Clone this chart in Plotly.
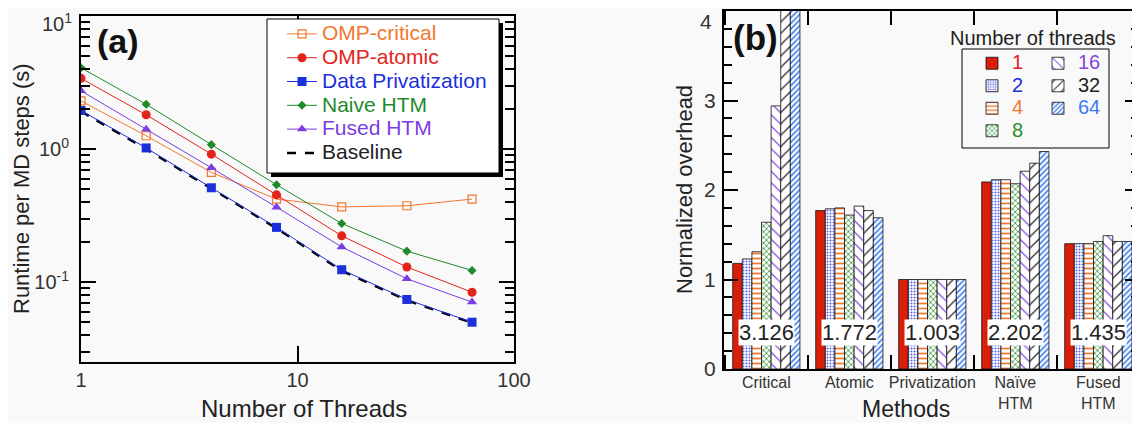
import plotly.graph_objects as go

# ---------------- data: panel (a) ----------------
threads = [1, 2, 4, 8, 16, 32, 64]
omp_critical = [2.30, 1.26, 0.668, 0.421, 0.368, 0.375, 0.421]
omp_atomic = [3.40, 1.81, 0.916, 0.453, 0.223, 0.130, 0.084]
data_priv = [1.95, 1.02, 0.512, 0.258, 0.124, 0.0741, 0.050]
naive_htm = [4.08, 2.17, 1.08, 0.539, 0.276, 0.171, 0.1225]
fused_htm = [2.74, 1.41, 0.724, 0.366, 0.184, 0.106, 0.0708]
baseline = [1.92, 1.00, 0.505, 0.254, 0.122, 0.0730, 0.0495]
y_ticks_a = [0.1, 1, 10]
y_ticktext_a = ["10<sup>-1</sup>", "10<sup>0</sup>", "10<sup>1</sup>"]

# ---------------- data: panel (b) ----------------
methods = ["Critical", "Atomic", "Privatization", "Naïve<br>HTM", "Fused<br>HTM"]
thread_labels = ["1", "2", "4", "8", "16", "32", "64"]
overhead = {
    "1":  [1.18, 1.77, 1.00, 2.09, 1.40],
    "2":  [1.23, 1.79, 1.00, 2.115, 1.40],
    "4":  [1.31, 1.80, 1.00, 2.115, 1.40],
    "8":  [1.64, 1.72, 1.00, 2.07, 1.425],
    "16": [2.94, 1.82, 1.00, 2.21, 1.49],
    "32": [5.60, 1.77, 1.00, 2.30, 1.425],
    "64": [7.98, 1.69, 1.00, 2.43, 1.425],
}
avg_overhead = [3.126, 1.772, 1.003, 2.202, 1.435]
y_ticks_b = [0, 1, 2, 3, 4]

FONT = "Liberation Sans, Arial, Helvetica, sans-serif"
OFF = 8                      # default page body margin of the html page
W, H = 1140 - OFF, 423 - OFF


def px(x):
    return (x - OFF) / W


def py(y):
    return (H + OFF - y) / H


fig = go.Figure()

# ---- panel (a) traces ----
line_specs = [
    ("OMP-critical", omp_critical, "#F2782F", dict(symbol="square-open", size=8, line=dict(width=1.2)), 1),
    ("OMP-atomic", omp_atomic, "#E3241C", dict(symbol="circle", size=9), 2),
    ("Data Privatization", data_priv, "#1B2FDB", dict(symbol="square", size=9), 3),
    ("Naive HTM", naive_htm, "#1F8A2C", dict(symbol="diamond", size=7), 4),
    ("Fused HTM", fused_htm, "#7A3DE2", dict(symbol="triangle-up", size=9), 5),
]

fig.add_trace(go.Scatter(
    x=threads, y=baseline, mode="lines",
    name="<span style='font-size:21px'>Baseline</span>",
    line=dict(color="black", width=2.5, dash="dash"),
    xaxis="x", yaxis="y", legend="legend", legendrank=6,
))
for name, vals, col, mk, rank in line_specs:
    mk = dict(mk)
    mk["color"] = col
    fig.add_trace(go.Scatter(
        x=threads, y=vals, mode="lines+markers",
        name=f"<span style='color:{col};font-size:21px'>{name}</span>",
        line=dict(color=col, width=1), marker=mk,
        xaxis="x", yaxis="y", legend="legend", legendrank=rank,
    ))

# ---- panel (b) bars ----
bar_styles = {
    "1":  dict(color="#D91E0A", pattern=dict(shape=""), txt="#E02020"),
    "2":  dict(color="white", pattern=dict(shape=".", fgcolor="#4F63E6", bgcolor="white", size=3, solidity=0.35, fillmode="replace"), txt="#2030D0"),
    "4":  dict(color="white", pattern=dict(shape="-", fgcolor="#F07A30", bgcolor="white", size=5, solidity=0.35, fillmode="replace"), txt="#F07A30"),
    "8":  dict(color="white", pattern=dict(shape="x", fgcolor="#2A8C2A", bgcolor="white", size=4, solidity=0.35, fillmode="replace"), txt="#2A8C2A"),
    "16": dict(color="white", pattern=dict(shape="\\", fgcolor="#8844DD", bgcolor="white", size=8, solidity=0.15, fillmode="replace"), txt="#8844DD"),
    "32": dict(color="white", pattern=dict(shape="/", fgcolor="#222222", bgcolor="white", size=8, solidity=0.15, fillmode="replace"), txt="#222222"),
    "64": dict(color="white", pattern=dict(shape="/", fgcolor="#3B7BF0", bgcolor="white", size=4, solidity=0.4, fillmode="replace"), txt="#3B7BF0"),
}
col1 = ["1", "2", "4", "8"]
for i, t in enumerate(thread_labels):
    st = bar_styles[t]
    fig.add_trace(go.Bar(
        x=list(range(len(methods))), y=overhead[t],
        name=f"<span style='color:{st['txt']};font-size:20px'>{t}</span>",
        marker=dict(color=st["color"], pattern=st["pattern"], line=dict(color="#111111", width=0.8)),
        xaxis="x2", yaxis="y2",
        legend="legend2" if t in col1 else "legend3",
        legendrank=i + 1,
    ))

axis_common = dict(
    showline=True, linecolor="black", linewidth=2, mirror="allticks",
    ticks="inside", tickcolor="black", tickwidth=1.5,
    tickfont=dict(family=FONT, size=20, color="#333333"),
    showgrid=False, zeroline=False, automargin=False,
)

minor_y_vals = [v * 10 ** e for e in (-2, -1, 0) for v in range(2, 10) if 0.025 < v * 10 ** e < 10]

fig.update_layout(
    width=W, height=H,
    margin=dict(l=0, r=0, t=0, b=0, autoexpand=False),
    paper_bgcolor="#F9F9F9", plot_bgcolor="#F9F9F9",
    font=dict(family=FONT, color="#222222"),
    barmode="group", bargap=0.19, bargroupgap=0.0,
    showlegend=True,
    xaxis=dict(
        axis_common, type="log", range=[0, 2], domain=[px(81), px(514)],
        anchor="y", tickvals=[1, 10, 100], ticktext=["1", "10", "100"], ticklen=16,
        ticklabelstandoff=-1,
    ),
    yaxis=dict(
        axis_common, type="log", range=[-1.6, 1.0001], domain=[py(362), py(16)],
        anchor="x", tickvals=y_ticks_a,
        # the top label sits at the page edge; it is drawn as an annotation below
        ticktext=y_ticktext_a[:-1] + [""], ticklen=15,
        minor=dict(tickvals=minor_y_vals, ticks="inside", ticklen=9, tickcolor="black", tickwidth=1.5),
        ticklabelstandoff=6,
    ),
    xaxis2=dict(
        axis_common, range=[-0.51, 4.49], domain=[px(724), px(1139)], anchor="y2",
        tickvals=list(range(len(methods))), ticktext=methods, ticks="", ticklen=0,
        tickfont=dict(family=FONT, size=16, color="#333333"),
        minor=dict(tick0=0.5, dtick=1, ticks="inside", ticklen=14, tickcolor="black", tickwidth=1.5),
        ticklabelstandoff=-2,
    ),
    yaxis2=dict(
        axis_common, range=[0, 4.0001], domain=[py(369), py(11)], anchor="x2",
        tickvals=y_ticks_b, ticktext=[str(v) for v in y_ticks_b[:-1]] + [""], ticklen=14,
        tickfont=dict(family=FONT, size=21, color="#333333"),
        minor=dict(dtick=0.2, ticks="inside", ticklen=8, tickcolor="black", tickwidth=1.5),
        ticklabelstandoff=2,
    ),
    legend=dict(
        x=px(282), y=py(17), xanchor="left", yanchor="top",
        bgcolor="rgba(0,0,0,0)", borderwidth=0,
        font=dict(family=FONT, size=16, color="#222222"),
        tracegroupgap=0,
    ),
    legend2=dict(
        x=px(972), y=py(47), xanchor="left", yanchor="top",
        bgcolor="rgba(0,0,0,0)", borderwidth=0,
        font=dict(family=FONT, size=15), tracegroupgap=0,
    ),
    legend3=dict(
        x=px(1038), y=py(47), xanchor="left", yanchor="top",
        bgcolor="rgba(0,0,0,0)", borderwidth=0,
        font=dict(family=FONT, size=15), tracegroupgap=0,
    ),
    shapes=[
        # legend (a) shadow + box
        dict(type="rect", xref="paper", yref="paper", x0=px(271), x1=px(503), y0=py(177), y1=py(23),
             fillcolor="black", line=dict(width=0), layer="above"),
        dict(type="rect", xref="paper", yref="paper", x0=px(267), x1=px(499), y0=py(173), y1=py(19),
             fillcolor="white", line=dict(color="black", width=1), layer="above"),
        # legend (b) box
        dict(type="rect", xref="paper", yref="paper", x0=px(962), x1=px(1109), y0=py(148), y1=py(49),
             fillcolor="#F9F9F9", line=dict(color="black", width=1), layer="above"),
    ],
)


def note(text, x, y, size, angle=0, color="#222222", xanchor="center", yanchor="middle"):
    return dict(text=text, x=px(x), y=py(y), xref="paper", yref="paper", showarrow=False,
                xanchor=xanchor, yanchor=yanchor, textangle=angle,
                font=dict(family=FONT, size=size, color=color))


annotations = [
    note("<b>(a)</b>", 118, 41, 34, color="#111111"),
    note("<b>(b)</b>", 755, 37, 35, color="#111111"),
    note("Number of threads", 1033, 38, 20),
    note("Number of Threads", 304, 408, 24),
    note("Methods", 906, 409, 23),
    note("Runtime per MD steps (s)", 21, 189, 22, angle=-90),
    note("Normalized overhead", 684, 190, 22, angle=-90),
    # top tick labels kept inside the page
    note(y_ticktext_a[-1], 74, 8, 20, color="#333333", xanchor="right", yanchor="top"),
    note(str(y_ticks_b[-1]), 714, 8, 21, color="#333333", xanchor="right", yanchor="top"),
]
for i, v in enumerate(avg_overhead):
    annotations.append(dict(
        text=f"{v:.3f}", x=i, y=0.41, xref="x2", yref="y2", showarrow=False,
        xanchor="center", yanchor="middle",
        bgcolor="white", borderpad=0, font=dict(family=FONT, size=22, color="#222222"),
    ))
fig.update_layout(annotations=annotations)

fig.write_html("out.html")
